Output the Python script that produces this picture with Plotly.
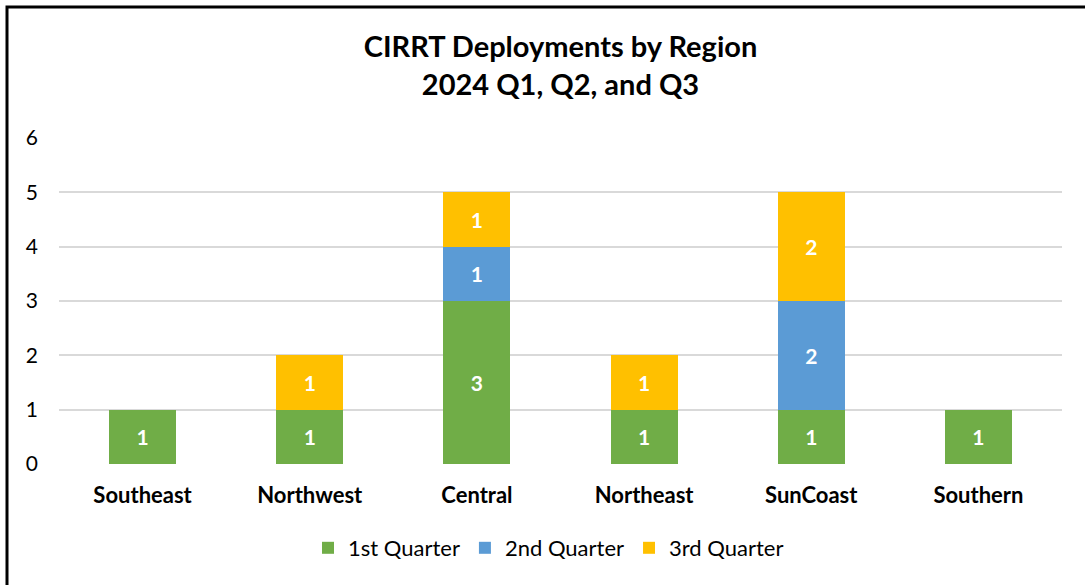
import plotly.graph_objects as go

regions = ["Southeast", "Northwest", "Central", "Northeast", "SunCoast", "Southern"]
q1 = [1, 1, 3, 1, 1, 1]
q2 = [None, None, 1, None, 2, None]
q3 = [None, 1, 1, 1, 2, None]
series_names = ["1st Quarter", "2nd Quarter", "3rd Quarter"]
colors = ["#70AD47", "#5B9BD5", "#FFC000"]
y_ticks = [0, 1, 2, 3, 4, 5, 6]

FONT = "Lato, Open Sans, sans-serif"

fig = go.Figure()
for name, vals, col in zip(series_names, [q1, q2, q3], colors):
    fig.add_trace(go.Bar(
        x=regions, y=vals, name=name, marker=dict(color=col, line=dict(width=0)),
        text=[str(v) if v else "" for v in vals], textposition="inside",
        insidetextanchor="middle",
        textfont=dict(color="white", size=21, family=FONT, weight="bold"),
    ))

W, H = 1085, 585
ml, mr, mt, mb = 59, 23, 138, 121
pw = W - ml - mr
ph = H - mt - mb

fig.update_layout(
    barmode="stack", bargap=0.6,
    width=W, height=H,
    margin=dict(l=ml, r=mr, t=mt, b=mb),
    paper_bgcolor="white", plot_bgcolor="white",
    font=dict(family=FONT, color="black"),
    title=dict(text="<b>CIRRT Deployments by Region<br>2024 Q1, Q2, and Q3</b>",
               x=0.5, xref="paper", xanchor="center", y=1 - 57 / H, yanchor="middle",
               font=dict(size=29, family=FONT, color="black")),
    xaxis=dict(showgrid=False, showline=False, ticks="", ticklabelstandoff=16,
               tickfont=dict(size=22, family=FONT, weight="bold", color="black")),
    yaxis=dict(range=[0, 6], tickvals=y_ticks, showgrid=True, gridcolor="#D9D9D9",
               gridwidth=1.5, zeroline=False, showline=False, ticks="",
               ticklabelstandoff=20,
               tickfont=dict(size=21, family=FONT, color="black")),
    legend=dict(orientation="h", x=0.5 - 12 / pw, xanchor="center",
                y=-(548 - (H - mb)) / ph, yanchor="middle",
                font=dict(size=22, family=FONT, color="black"),
                traceorder="normal", itemwidth=30),
    shapes=[dict(type="rect", xref="paper", yref="paper",
                 x0=(7 - ml) / pw, x1=(W + 20 - ml) / pw,
                 y0=-(H + 20 - mt - ph) / ph, y1=(H - 7 - mb) / ph,
                 line=dict(color="black", width=3), fillcolor="rgba(0,0,0,0)")],
)

fig.write_html("out.html", config={"displayModeBar": False},
               post_script="document.body.style.margin='0';document.body.style.padding='0';")
